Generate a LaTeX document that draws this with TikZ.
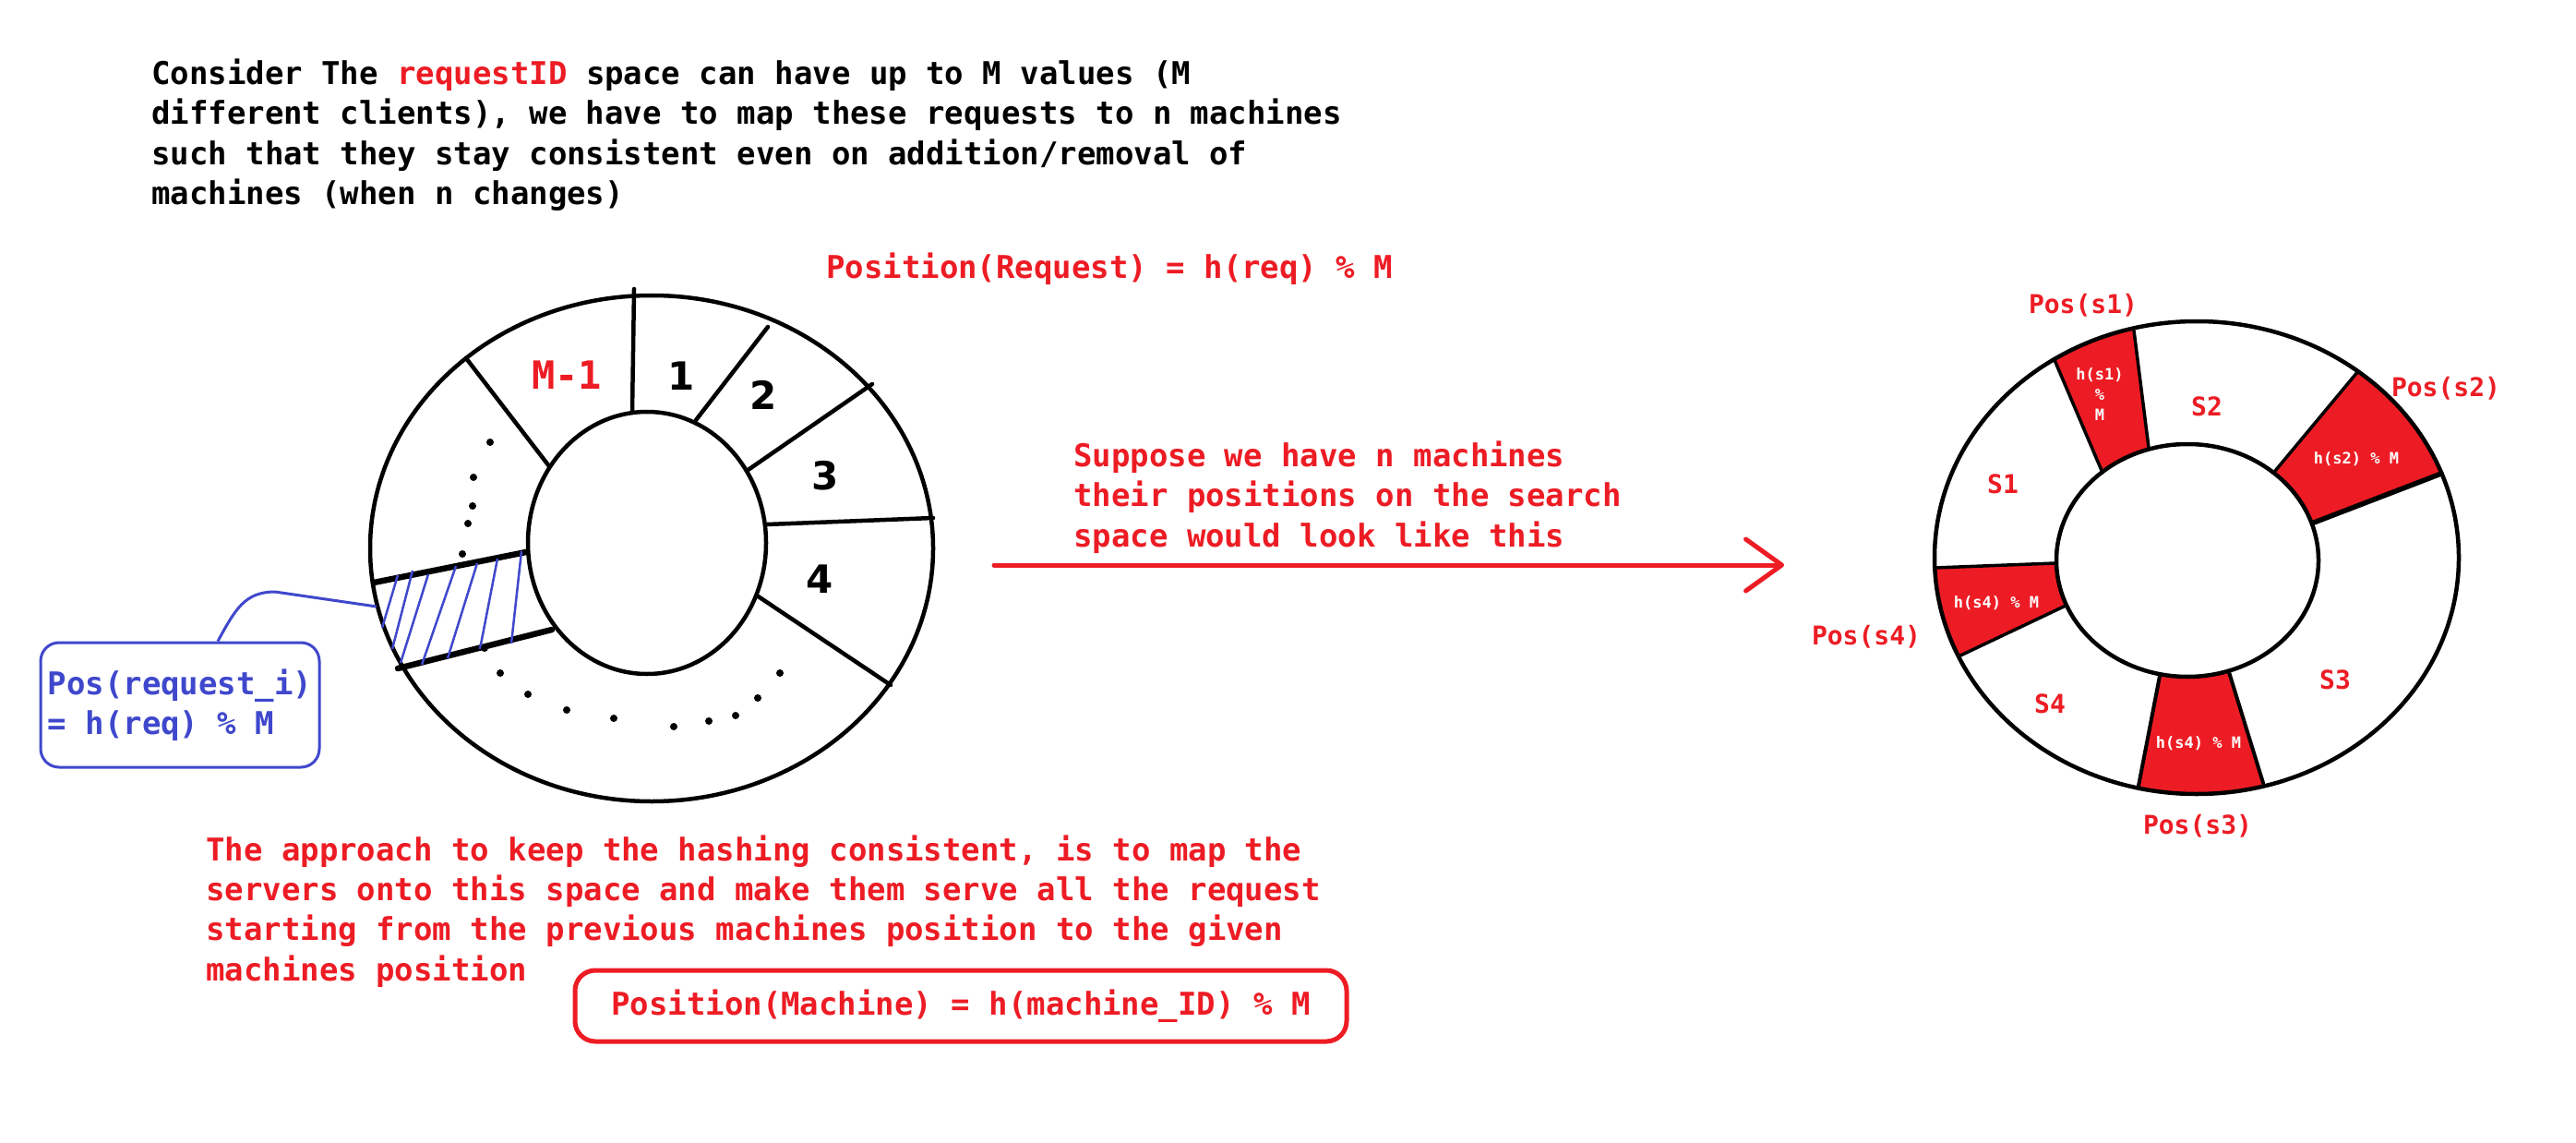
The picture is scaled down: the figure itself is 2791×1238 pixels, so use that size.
\documentclass[tikz,border=0pt]{standalone}
\usepackage{fontspec}
\setmainfont{DejaVu Sans}
\newfontfamily\mono{DejaVu Sans Mono}
\usetikzlibrary{arrows.meta}
\definecolor{pred}{HTML}{ED1C24}
\definecolor{pblue}{HTML}{3F48CC}
\begin{document}
\begin{tikzpicture}[x=1pt,y=-1pt,
  txt/.style={anchor=base west, inner sep=0pt, font=\mono\bfseries\fontsize{34}{43}\selectfont},
  ring/.style={line width=4.5pt, draw=black, line cap=round},
  thickl/.style={line width=6.5pt, draw=black, line cap=round},
  hatch/.style={line width=2.5pt, draw=pblue},
  numlab/.style={inner sep=0pt, font=\bfseries\fontsize{42}{44}\selectfont},
  poslab/.style={inner sep=0pt, text=pred, font=\mono\bfseries\fontsize{28}{30}\selectfont},
  whitelab/.style={inner sep=0pt, text=white, align=center, font=\mono\bfseries\fontsize{17}{22}\selectfont},
  dot/.style={fill=black, circle, inner sep=0pt, minimum size=8pt}
]
\useasboundingbox[fill=white] (0,0) rectangle (2791,1238);

% ---- top text ----
\node[txt] (t1) at (164,92) {Consider The \textcolor{pred}{requestID} space can have up to M values (M};
\node[txt] (t2) at (164,135) {different clients), we have to map these requests to n machines};
\node[txt] (t3) at (164,179) {such that they stay consistent even on addition/removal of};
\node[txt] (t4) at (164,222) {machines (when n changes)};

\node[txt, text=pred] (preq) at (895,302) {Position(Request) = h(req) \% M};

% ---- left ring ----
\draw[ring] (706,594) ellipse [x radius=305, y radius=274];
\draw[ring] (701,588) ellipse [x radius=129, y radius=142];
\draw[ring] (687,313) -- (685,447);
\draw[ring] (832,354) -- (754,455);
\draw[ring] (945,416) -- (809,510);
\draw[ring] (831,568) -- (1011,561);
\draw[ring] (820,645) -- (965,742);
\draw[ring] (505,388) -- (595,505);
\draw[thickl] (405,631) -- (570,598);
\draw[thickl] (431,724) -- (598,682);

% hatch
\draw[hatch] (431,623) -- (414,680);
\draw[hatch] (447,618) -- (425,703);
\draw[hatch] (464,622) -- (434,718);
\draw[hatch] (494,613) -- (457,720);
\draw[hatch] (517,610) -- (485,713);
\draw[hatch] (539,605) -- (520,703);
\draw[hatch] (565,597) -- (554,697);

% labels
\node[numlab, text=pred, font=\mono\bfseries\fontsize{42}{44}\selectfont] (lm1) at (614,406) {M-1};
\node[numlab] (l1) at (738,407) {1};
\node[numlab] (l2) at (827,428) {2};
\node[numlab] (l3) at (894,515) {3};
\node[numlab] (l4) at (888,627) {4};

% dots
\foreach \p/\n in {{(531,479)}/a1,{(513,517)}/a2,{(512,548)}/a3,{(507,567)}/a4,{(501,600)}/a5,
  {(525,702)}/b0,{(542,729)}/b1,{(572,752)}/b2,{(614,769)}/b3,{(665,778)}/b4,{(730,787)}/b5,
  {(768,781)}/b6,{(797,775)}/b7,{(821,756)}/b8,{(845,729)}/b9}
  \node[dot] (d\n) at \p {};

% callout
\node[draw=pblue, line width=3pt, rounded corners=20pt, minimum width=302pt, minimum height=135pt,
  inner sep=7pt, align=left, text=pblue, font=\mono\bfseries\fontsize{34}{43}\selectfont]
  (cbox) at (195,763.5) {Pos(request\_i)\\= h(req) \% M};
\coordinate (ctip) at (408,657);
\draw[pblue, line width=3pt] ([xshift=41pt]cbox.north) .. controls (255,660) and (265,641) .. (298,641) -- (ctip);

% ---- middle text + arrow ----
\node[txt, text=pred] (s1t) at (1163,505) {Suppose we have n machines};
\node[txt, text=pred] (s2t) at (1163,548) {their positions on the search};
\node[txt, text=pred] (s3t) at (1163,592) {space would look like this};
\coordinate (ast) at (1077,612);
\coordinate (aen) at (1933,612);
\draw[pred, line width=5pt, line cap=round, -{Straight Barb[length=39pt,width=56pt,round]}] (ast) -- (aen);

% ---- bottom text ----
\node[txt, text=pred] (b1t) at (223,932) {The approach to keep the hashing consistent, is to map the};
\node[txt, text=pred] (b2t) at (223,975) {servers onto this space and make them serve all the request};
\node[txt, text=pred] (b3t) at (223,1018) {starting from the previous machines position to the given};
\node[txt, text=pred] (b4t) at (223,1062) {machines position};
\node[draw=pred, line width=5pt, rounded corners=22pt, minimum width=836pt, minimum height=77pt,
  inner sep=0pt, text=pred, font=\mono\bfseries\fontsize{34}{43}\selectfont]
  (mbox) at (1041,1089.5) {Position(Machine) = h(machine\_ID) \% M};

% ---- right ring ----
\begin{scope}
  \clip (2380,604) ellipse [x radius=284, y radius=256];
  \fill[pred] (2278,512) -- (2210,353) -- (2307,320) -- (2328,485) -- cycle;
  \fill[pred] (2465,510) -- (2582,370) -- (2686,497) -- (2507,566) -- cycle;
  \fill[pred] (2227,610) -- (2057,617) -- (2090,726) -- (2238,656) -- cycle;
  \fill[pred] (2340,732) -- (2310,887) -- (2463,884) -- (2415,728) -- cycle;
\end{scope}
\fill[white] (2370,607) ellipse [x radius=142, y radius=126];
\draw[ring] (2380,604) ellipse [x radius=284, y radius=256];
\draw[ring] (2370,607) ellipse [x radius=142, y radius=126];
\draw[ring, line width=3.5pt] (2278,512) -- (2226,390);
\draw[ring, line width=3.5pt] (2328,485) -- (2312,358);
\draw[ring, line width=3.5pt] (2465,510) -- (2555,402);
\draw[ring, line width=5.5pt] (2507,566) -- (2645,513);
\draw[ring, line width=3.5pt] (2227,610) -- (2096,615);
\draw[ring, line width=3.5pt] (2238,656) -- (2124,710);
\draw[ring, line width=4pt] (2340,732) -- (2317,851);
\draw[ring, line width=4pt] (2415,728) -- (2452,848);

\node[whitelab] (w1) at (2275,427) {h(s1)\\\%\\M};
\node[whitelab] (w2) at (2553,497) {h(s2) \% M};
\node[whitelab] (w4) at (2163,653) {h(s4) \% M};
\node[whitelab] (w3) at (2382,805) {h(s4) \% M};

\node[poslab] (p1) at (2257,331) {Pos(s1)};
\node[poslab] (p2) at (2650,421) {Pos(s2)};
\node[poslab] (p4) at (2022,690) {Pos(s4)};
\node[poslab] (p3) at (2381,895) {Pos(s3)};
\node[poslab] (r1) at (2170,524) {S1};
\node[poslab] (r2) at (2391,440) {S2};
\node[poslab] (r3) at (2530,736) {S3};
\node[poslab] (r4) at (2221,762) {S4};
\end{tikzpicture}
\end{document}
